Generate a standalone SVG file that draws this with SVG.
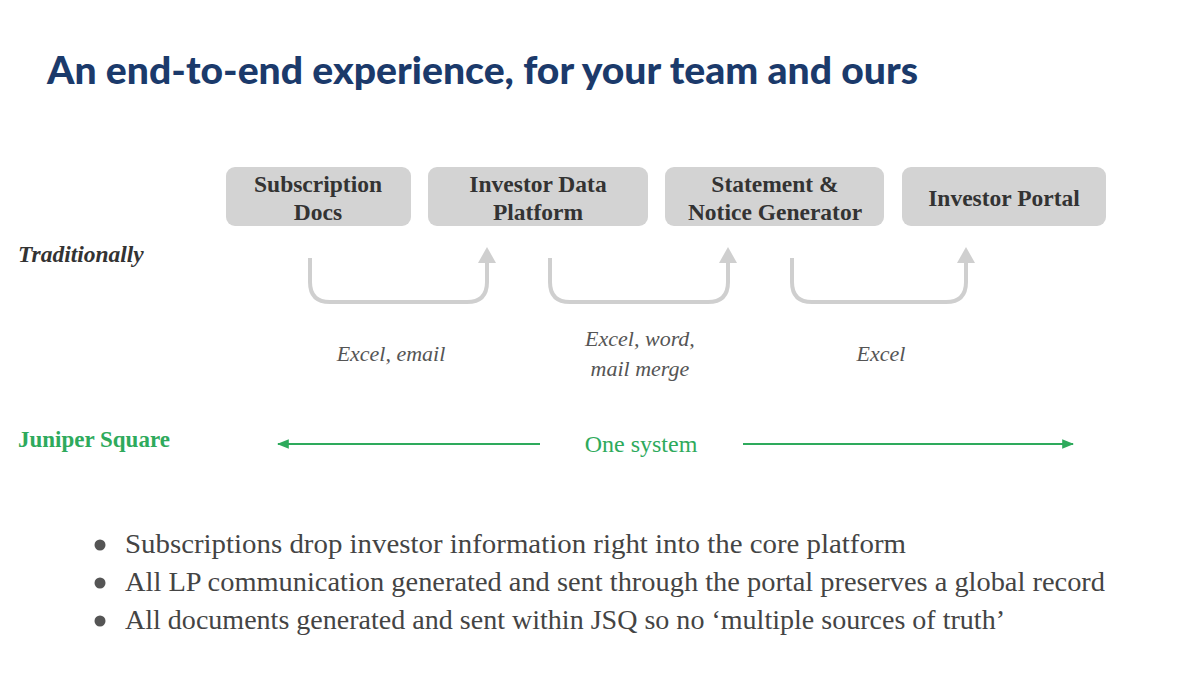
<svg xmlns="http://www.w3.org/2000/svg" width="1200" height="687" viewBox="0 0 1200 687">
<style>
.box{fill:#d3d3d3}
.bt{font-family:"Liberation Serif",serif;font-weight:bold;font-size:23.5px;fill:#333;text-anchor:middle}
.conn{fill:none;stroke:#cfcfcf;stroke-width:4}
.lbl{font-family:"Liberation Serif",serif;font-style:italic;font-size:22px;fill:#555;text-anchor:middle}
.green{stroke:#2eaa5c;stroke-width:2;fill:none}
.bul{font-family:"Liberation Serif",serif;font-size:27px;fill:#444}
</style>
<defs>
<marker id="ga" viewBox="0 0 10 10" refX="9" refY="5" markerWidth="6" markerHeight="6" orient="auto-start-reverse"><path d="M0,1 L10,5 L0,9 z" fill="#2eaa5c"/></marker>
</defs>
<rect width="1200" height="687" fill="#fff"/>
<text x="47" y="84" font-family="Lato, 'Open Sans', sans-serif" font-weight="900" font-size="37" fill="#1b3a6b" textLength="871" lengthAdjust="spacingAndGlyphs">An end-to-end experience, for your team and ours</text>

<g id="n1"><rect class="box" x="226" y="167" width="185" height="59" rx="9"/><text class="bt" x="318" y="192">Subscription</text><text class="bt" x="318" y="220">Docs</text></g>
<g id="n2"><rect class="box" x="428" y="167" width="220" height="59" rx="9"/><text class="bt" x="538" y="192">Investor Data</text><text class="bt" x="538" y="220">Platform</text></g>
<g id="n3"><rect class="box" x="665" y="167" width="219" height="59" rx="9"/><text class="bt" x="775" y="192">Statement &amp;</text><text class="bt" x="775" y="220">Notice Generator</text></g>
<g id="n4"><rect class="box" x="902" y="167" width="204" height="59" rx="9"/><text class="bt" x="1004" y="206">Investor Portal</text></g>

<g id="connectors">
<path class="conn" d="M310,258 V282 Q310,302 330,302 H467 Q487,302 487,282 V262"/>
<path d="M478,263 L487,247 L496,263 z" fill="#cfcfcf"/>
<path class="conn" d="M550,258 V282 Q550,302 570,302 H708 Q728,302 728,282 V262"/>
<path d="M719,263 L728,247 L737,263 z" fill="#cfcfcf"/>
<path class="conn" d="M792,258 V282 Q792,302 812,302 H946 Q966,302 966,282 V262"/>
<path d="M957,263 L966,247 L975,263 z" fill="#cfcfcf"/>
<line class="green" x1="540" y1="444" x2="278" y2="444" marker-end="url(#ga)"/>
<line class="green" x1="743" y1="444" x2="1073" y2="444" marker-end="url(#ga)"/>
</g>

<text class="lbl" x="391" y="361">Excel, email</text>
<text class="lbl" x="640" y="346">Excel, word,</text>
<text class="lbl" x="640" y="376">mail merge</text>
<text class="lbl" x="881" y="361">Excel</text>

<text x="18" y="262" font-family="'Liberation Serif',serif" font-style="italic" font-weight="bold" font-size="23.5" fill="#333">Traditionally</text>
<text x="18" y="447" font-family="'Liberation Serif',serif" font-weight="bold" font-size="23" fill="#2eaa5c">Juniper Square</text>
<text x="641" y="452" font-family="'Liberation Serif',serif" font-size="24" fill="#2eaa5c" text-anchor="middle">One system</text>

<g fill="#555"><circle cx="100" cy="545" r="5.5"/><circle cx="100" cy="583" r="5.5"/><circle cx="100" cy="621" r="5.5"/></g>
<text class="bul" x="125" y="553" textLength="781" lengthAdjust="spacingAndGlyphs">Subscriptions drop investor information right into the core platform</text>
<text class="bul" x="125" y="591" textLength="980" lengthAdjust="spacingAndGlyphs">All LP communication generated and sent through the portal preserves a global record</text>
<text class="bul" x="125" y="629" textLength="880" lengthAdjust="spacingAndGlyphs">All documents generated and sent within JSQ so no ‘multiple sources of truth’</text>
</svg>
